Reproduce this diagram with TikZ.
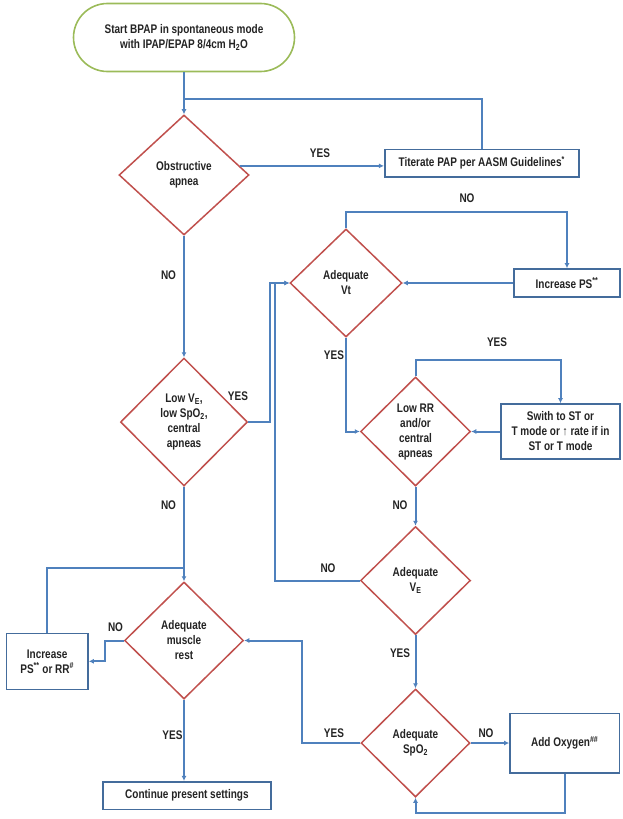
\documentclass[tikz,border=0pt]{standalone}
\usepackage{fontspec}
\setmainfont{Liberation Sans}[FakeStretch=0.8]
\usetikzlibrary{shapes.geometric,arrows.meta,calc}
\definecolor{flowblue}{RGB}{79,129,189}
\definecolor{boxblue}{RGB}{68,108,156}
\definecolor{diared}{RGB}{192,80,77}
\definecolor{startgreen}{RGB}{155,187,89}
\definecolor{txtgray}{RGB}{35,35,35}

\tikzset{
	every node/.style={font=\fontsize{12.5}{15}\selectfont\bfseries,text=txtgray,align=center},
	startblock/.style={draw=startgreen,line width=1.6pt,rounded corners=34pt,minimum width=221pt,minimum height=68pt},
	block/.style={draw=boxblue,line width=1.6pt,inner sep=0pt},
	decision/.style={diamond,draw=diared,line width=1.5pt,inner sep=0pt},
	flow/.style={draw=flowblue,line width=2pt},
	flowarr/.style={flow,-{Latex[length=5pt,width=5pt]}},
	lbl/.style={inner sep=0pt}
}

\begin{document}
\begin{tikzpicture}[x=1pt,y=-1pt]
			\useasboundingbox (0,0) rectangle (622,819);
			
			\node[startblock] (start) at (184,37.5) {Start BPAP in spontaneous mode\\with IPAP/EPAP 8/4cm H\textsubscript{2}O};
			
			\node[decision,minimum width=130pt,minimum height=120pt] (obs) at (184,175) {Obstructive\\apnea};
			\node[decision,minimum width=112pt,minimum height=108pt] (vt) at (346,283) {Adequate\\Vt};
			\node[decision,minimum width=127pt,minimum height=128pt] (lowve) at (184,422) {Low V\textsubscript{E},\\low SpO\textsubscript{2},\\central\\apneas};
			\node[decision,minimum width=110pt,minimum height=109pt] (lowrr) at (415.5,431.5) {Low RR\\and/or\\central\\apneas};
			\node[decision,minimum width=110pt,minimum height=108pt] (ve) at (415.5,580.5) {Adequate\\V\textsubscript{E}};
			\node[decision,minimum width=109pt,minimum height=108pt] (spo) at (415.5,743) {Adequate\\SpO\textsubscript{2}};
			\node[decision,minimum width=119pt,minimum height=117pt] (mus) at (184,640.5) {Adequate\\muscle\\rest};
			
			\node[block,minimum width=194pt,minimum height=27.4pt] (tit) at (481.7,163) {Titerate PAP per AASM Guidelines\textsuperscript{*}};
			\node[block,minimum width=106pt,minimum height=28pt] (ips) at (567,283) {Increase PS\textsuperscript{**}};
			\node[block,minimum width=119pt,minimum height=55pt] (stmode) at (560.5,431.5) {Swith to ST or\\T mode or ↑ rate if in\\ST or T mode};
			\node[block,minimum width=109.5pt,minimum height=59.4pt] (oxy) at (564.7,743) {Add Oxygen\textsuperscript{\#\#}};
			\node[block,minimum width=81.6pt,minimum height=56pt] (incr) at (47.2,661.3) {Increase\\PS\textsuperscript{**} or RR\textsuperscript{\#}};
			\node[block,minimum width=168pt,minimum height=27.6pt] (cont) at (186.9,795.5) {Continue present settings};
			
			\coordinate (j1) at (184,99.3);
			\coordinate (j2) at (184,567.7);
			\coordinate (oy) at ($(obs.north)!0.85!(obs.east)$);
			
			\draw[flowarr] (start) -- (obs);
			\draw[flow] (tit.north) |- (j1);
			\draw[flowarr] (oy) -- (oy -| tit.west);
			\draw[flowarr] (obs) -- (lowve);
			\draw[flowarr] (lowve.east) -- ++(22,0) |- (vt.west);
			\draw[flowarr] (ve.west) -- ++(-85,0) |- (vt.west);
			\draw[flowarr] (vt.north) -- ++(0,-16.6) -| (ips.north);
			\draw[flowarr] (ips) -- (vt);
			\draw[flowarr] (vt.south) |- (lowrr.west);
			\draw[flowarr] (lowrr.north) -- ++(0,-16) -| (stmode.north);
			\draw[flowarr] (stmode) -- (lowrr);
			\draw[flowarr] (lowrr) -- (ve);
			\draw[flowarr] (ve) -- (spo);
			\draw[flowarr] (spo) -- (oxy);
			\draw[flowarr] (oxy.south) -- ++(0,39) -| (spo.south);
			\draw[flowarr] (spo.west) -- ++(-58,0) |- (mus.east);
			\draw[flowarr] (lowve) -- (mus);
			\draw[flowarr] (mus.west) -- ++(-19,0) |- (incr.east);
			\draw[flow] (incr.north) |- (j2);
			\draw[flowarr] (mus.south) -- (mus.south |- cont.north);
			
			\node[lbl] (yes1) at (320,153) {YES};
			\node[lbl] (no1) at (168.5,275) {NO};
			\node[lbl] (no2) at (467,198) {NO};
			\node[lbl] (yes2) at (238,396) {YES};
			\node[lbl] (yes3) at (334,355) {YES};
			\node[lbl] (yes4) at (497,342) {YES};
			\node[lbl] (no3) at (168.5,505) {NO};
			\node[lbl] (no4) at (400,505) {NO};
			\node[lbl] (no5) at (328,568) {NO};
			\node[lbl] (yes5) at (400,653) {YES};
			\node[lbl] (no6) at (486,733) {NO};
			\node[lbl] (yes6) at (334,733) {YES};
			\node[lbl] (no7) at (115.5,627) {NO};
			\node[lbl] (yes7) at (172.5,735) {YES};
\end{tikzpicture}
\end{document}
